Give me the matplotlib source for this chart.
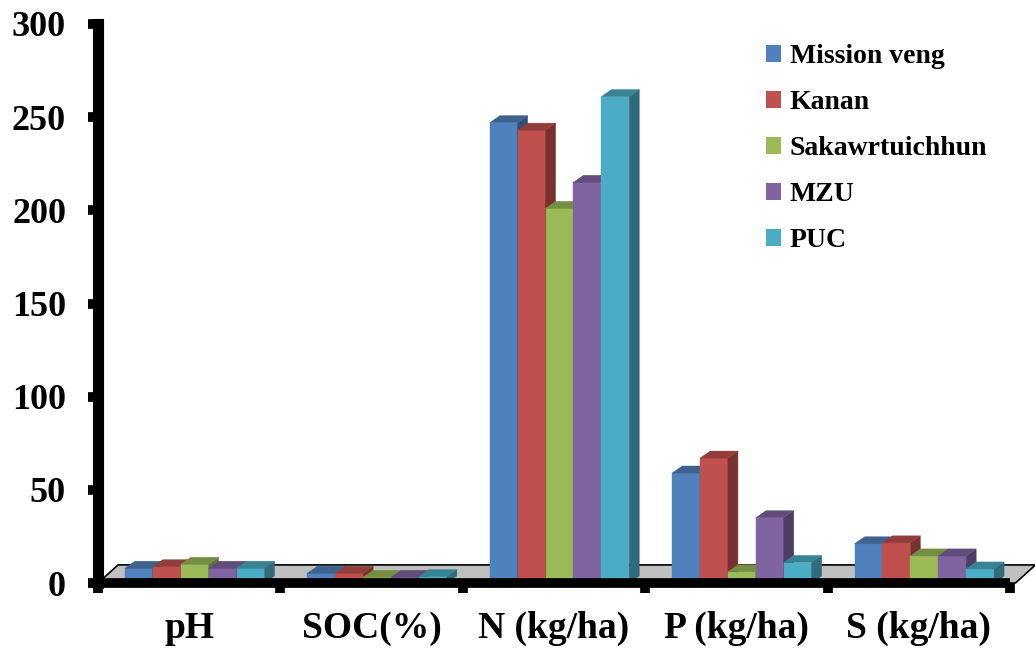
import numpy as np
import matplotlib
matplotlib.use("Agg")
import matplotlib.pyplot as plt
from matplotlib.patches import Polygon, Patch
from matplotlib.colors import to_rgb

# values
categories = ["pH", "SOC(%)", "N (kg/ha)", "P (kg/ha)", "S (kg/ha)"]
site_names = ["Mission veng", "Kanan", "Sakawrtuichhun", "MZU", "PUC"]
mission_veng = [7.9, 5.2, 247, 59, 21]
kanan = [8.7, 5.2, 243, 67, 21.5]
sakawrtuichhun = [10.0, 3.0, 201, 6, 14.5]
mzu = [7.9, 3.0, 215, 35, 14.5]
puc = [7.9, 3.4, 261, 11, 7.5]
series = [mission_veng, kanan, sakawrtuichhun, mzu, puc]
colors = ["#4F81BD", "#C0504D", "#9BBB59", "#8064A2", "#4BACC6"]
y_ticks = [0, 50, 100, 150, 200, 250, 300]

font = "Liberation Serif"
plt.rcParams["font.family"] = [font, "DejaVu Serif"]
plt.rcParams["font.weight"] = "bold"


def shade(c, f):
    r, g, b = to_rgb(c)
    return (r * f, g * f, b * f)


fig = plt.figure(figsize=(10.35, 6.5), dpi=100)
ax = fig.add_axes([98 / 1035, 67 / 650, 912 / 1035, 559 / 650])
ax.set_xlim(-0.5, len(categories) - 0.5)
ax.set_ylim(0, 300)

# 3d-ish depth offsets (data units)
dx, dy = 0.055, 3.8
floor_dx, floor_dy = 0.11, 9.7
bar_w = 0.153
shift = 0.03

# grey floor
n = len(categories)
floor = Polygon([(-0.5, 0), (n - 0.47, 0), (n - 0.47 + floor_dx, floor_dy),
                 (-0.5 + floor_dx, floor_dy)], closed=True,
                facecolor="#C0C0C0", edgecolor="black", lw=1.2,
                clip_on=False, zorder=0.5)
ax.add_patch(floor)

x = np.arange(n)
for k in range(n):
    for j, vals in enumerate(series):
        h = vals[k]
        x0 = x[k] - 2.5 * bar_w + j * bar_w + shift
        c = colors[j]
        ax.bar(x0, h, width=bar_w, align="edge", color=c, edgecolor=c,
               lw=0.3, zorder=1)
        side = Polygon([(x0 + bar_w, 0), (x0 + bar_w, h),
                        (x0 + bar_w + dx, h + dy), (x0 + bar_w + dx, dy)],
                       closed=True, facecolor=shade(c, 0.62),
                       edgecolor=shade(c, 0.62), lw=0.3, zorder=1,
                       clip_on=False)
        top = Polygon([(x0, h), (x0 + bar_w, h), (x0 + bar_w + dx, h + dy),
                       (x0 + dx, h + dy)], closed=True,
                      facecolor=shade(c, 0.76), edgecolor=shade(c, 0.76),
                      lw=0.3, zorder=1, clip_on=False)
        ax.add_patch(side)
        ax.add_patch(top)

# axes styling
for s in ["top", "right"]:
    ax.spines[s].set_visible(False)
ax.spines["left"].set_linewidth(8)
ax.spines["bottom"].set_linewidth(7)
ax.spines["left"].set_capstyle("projecting")
ax.spines["bottom"].set_capstyle("butt")
ax.spines["left"].set_zorder(3)
ax.spines["bottom"].set_zorder(3)

ax.set_yticks(y_ticks)
ax.set_yticklabels([str(v) for v in y_ticks], fontsize=26, fontweight="bold")
ax.tick_params(axis="y", length=7, width=7, pad=16)

ax.set_xticks(np.arange(-0.5, n, 1.0))
ax.set_xticklabels([])
ax.set_xticks(x, minor=True)
ax.set_xticklabels(categories, minor=True, fontsize=27, fontweight="bold")
ax.tick_params(axis="x", which="major", length=7, width=7)
ax.tick_params(axis="x", which="minor", length=0, pad=20)

handles = [Patch(facecolor=c, edgecolor="none") for c in colors]
fig.legend(handles, site_names, loc="upper left",
           bbox_to_anchor=(766 / 1035, 1 - 44 / 650), frameon=False,
           prop={"family": font, "weight": "bold", "size": 20},
           handlelength=0.55, handleheight=0.55, handletextpad=0.3,
           labelspacing=0.76, borderpad=0, borderaxespad=0)

fig.savefig("out.png", dpi=100)
